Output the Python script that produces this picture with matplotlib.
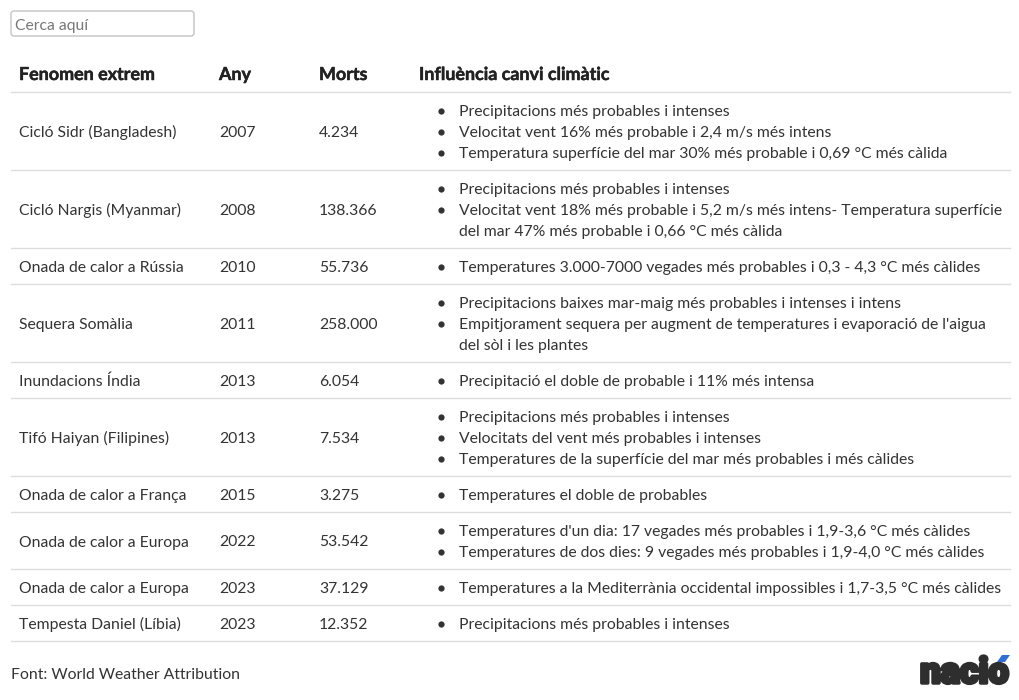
import matplotlib.pyplot as plt
import matplotlib.patheffects as pe
from matplotlib.patches import FancyBboxPatch, Polygon

# table data
headers = ["Fenomen extrem", "Any", "Morts", "Influència canvi climàtic"]
events = ["Cicló Sidr (Bangladesh)", "Cicló Nargis (Myanmar)", "Onada de calor a Rússia",
          "Sequera Somàlia", "Inundacions Índia", "Tifó Haiyan (Filipines)",
          "Onada de calor a França", "Onada de calor a Europa", "Onada de calor a Europa",
          "Tempesta Daniel (Líbia)"]
years = ["2007", "2008", "2010", "2011", "2013", "2013", "2015", "2022", "2023", "2023"]
deaths = ["4.234", "138.366", "55.736", "258.000", "6.054", "7.534", "3.275", "53.542",
          "37.129", "12.352"]
influence = [
    ["Precipitacions més probables i intenses",
     "Velocitat vent 16% més probable i 2,4 m/s més intens",
     "Temperatura superfície del mar 30% més probable i 0,69 °C més càlida"],
    ["Precipitacions més probables i intenses",
     "Velocitat vent 18% més probable i 5,2 m/s més intens- Temperatura superfície\n"
     "del mar 47% més probable i 0,66 °C més càlida"],
    ["Temperatures 3.000-7000 vegades més probables i 0,3 - 4,3 °C més càlides"],
    ["Precipitacions baixes mar-maig més probables i intenses i intens",
     "Empitjorament sequera per augment de temperatures i evaporació de l'aigua\n"
     "del sòl i les plantes"],
    ["Precipitació el doble de probable i 11% més intensa"],
    ["Precipitacions més probables i intenses",
     "Velocitats del vent més probables i intenses",
     "Temperatures de la superfície del mar més probables i més càlides"],
    ["Temperatures el doble de probables"],
    ["Temperatures d'un dia: 17 vegades més probables i 1,9-3,6 °C més càlides",
     "Temperatures de dos dies: 9 vegades més probables i 1,9-4,0 °C més càlides"],
    ["Temperatures a la Mediterrània occidental impossibles i 1,7-3,5 °C més càlides"],
    ["Precipitacions més probables i intenses"],
]
source = "Font: World Weather Attribution"

plt.rcParams['font.family'] = ['Lato', 'DejaVu Sans']
TXT = '#333333'
RULE = '#dddddd'
FS = 11.35
LINE_H = 21
PAD = 7.5
col_x = [19, 219, 319, 419]

fig = plt.figure(figsize=(10.2, 7), dpi=100)
ax = fig.add_axes([0, 0, 1, 1])
ax.set_xlim(0, 1020)
ax.set_ylim(700, 0)
ax.axis('off')

# search box
ax.add_patch(FancyBboxPatch((11, 11), 183, 25, boxstyle="round,pad=0,rounding_size=3",
                            facecolor='white', edgecolor='#c4c4c4', lw=1))
ax.text(15, 24 + 6, "Cerca aquí", fontsize=FS, color='#777777', va='baseline')

# header
for x, h in zip(col_x, headers):
    ax.text(x, 74 + 6, h, fontsize=12.9, fontweight='bold', color='#222222', va='baseline',
            path_effects=[pe.withStroke(linewidth=0.35, foreground='#222222')])
ax.plot([11, 1010], [92, 92], color=RULE, lw=1)

# rows
y = 92
for ev, yr, dt, bullets in zip(events, years, deaths, influence):
    lines = []
    for b in bullets:
        for i, part in enumerate(b.split("\n")):
            lines.append((part, i == 0))
    h = len(lines) * LINE_H + 2 * PAD
    mid = y + h / 2
    for x, val in zip(col_x[:3], [ev, yr, dt]):
        ax.text(x, mid + 6, val, fontsize=FS, color=TXT, va='baseline')
    for k, (part, first) in enumerate(lines):
        ly = y + PAD + LINE_H / 2 + k * LINE_H
        if first:
            ax.plot(441, ly + 0.5, 'o', ms=4.5, color=TXT, mec='none')
        ax.text(459, ly + 6, part, fontsize=FS, color=TXT, va='baseline')
    y += h
    ax.plot([11, 1010], [y, y], color=RULE, lw=1)

# footer
ax.text(11, 673 + 6, source, fontsize=FS, color=TXT, va='baseline')
ax.text(1009, 683, "nacio", fontsize=26, fontweight='black', family='Roboto',
        color='#2e2e2e', ha='right', va='baseline',
        path_effects=[pe.withStroke(linewidth=2.5, foreground='#2e2e2e')])
ax.add_patch(Polygon([[997, 662], [1002, 655], [1010, 655], [1005, 662]],
                     closed=True, color='#2f6fd6', lw=0))

fig.savefig("out.png", dpi=100, facecolor='white')
